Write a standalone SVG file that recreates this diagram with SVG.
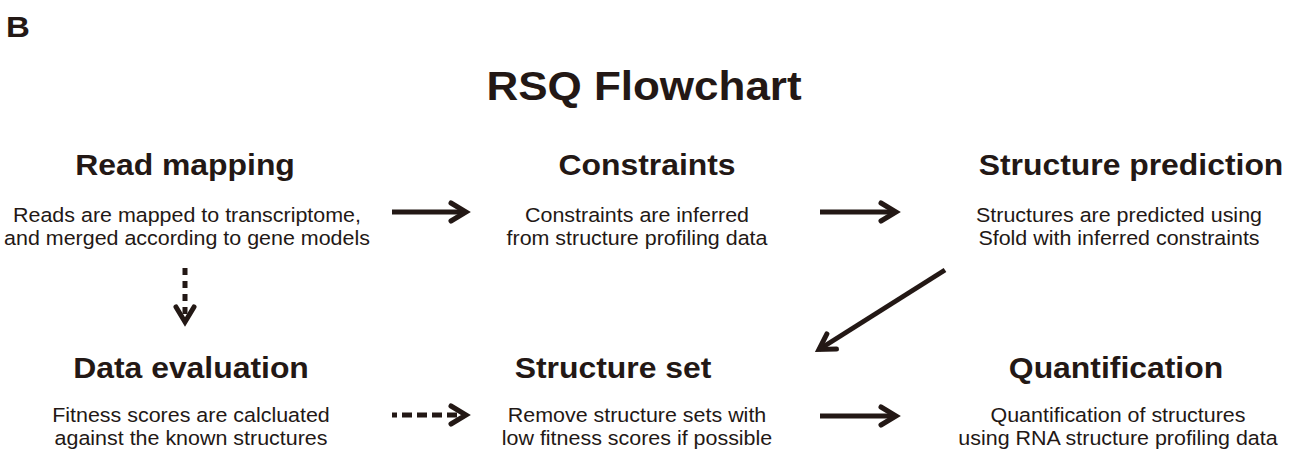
<svg xmlns="http://www.w3.org/2000/svg" width="1298" height="458" viewBox="0 0 1298 458">
<style>
text{font-family:"Liberation Sans",Arial,Helvetica,sans-serif;fill:#231815;text-anchor:middle}
.t{font-size:40px;font-weight:bold}
.h{font-size:29px;font-weight:bold}
.b{font-size:19.5px}
.lab{font-size:30px;font-weight:bold;text-anchor:start}
.c{fill:none;stroke:#231815;stroke-width:5}
.d{stroke-dasharray:7 6}
</style>
<defs>
<marker id="ah" markerUnits="userSpaceOnUse" markerWidth="30" markerHeight="30" refX="0" refY="0" orient="auto" overflow="visible">
<path d="M-15,-9 L0,0 L-15,9" fill="none" stroke="#231815" stroke-width="5" stroke-linecap="round" stroke-linejoin="miter" stroke-dasharray="none"/>
</marker>
</defs>
<rect width="1298" height="458" fill="#fff"/>
<text class="lab" transform="translate(6 37) scale(1.1 1)">B</text>
<text class="t" transform="translate(644 100) scale(1.1 1)">RSQ Flowchart</text>

<g id="read-mapping">
<text class="h" transform="translate(185 175) scale(1.1 1)">Read mapping</text>
<text class="b" transform="translate(187 222) scale(1.1 1)">Reads are mapped to transcriptome,</text>
<text class="b" transform="translate(187 245) scale(1.1 1)">and merged according to gene models</text>
</g>
<g id="constraints">
<text class="h" transform="translate(647 175) scale(1.1 1)">Constraints</text>
<text class="b" transform="translate(637 222) scale(1.1 1)">Constraints are inferred</text>
<text class="b" transform="translate(637 245) scale(1.1 1)">from structure profiling data</text>
</g>
<g id="structure-prediction">
<text class="h" transform="translate(1131 175) scale(1.1 1)">Structure prediction</text>
<text class="b" transform="translate(1119 222) scale(1.1 1)">Structures are predicted using</text>
<text class="b" transform="translate(1119 245) scale(1.1 1)">Sfold with inferred constraints</text>
</g>
<g id="data-evaluation">
<text class="h" transform="translate(191 378) scale(1.1 1)">Data evaluation</text>
<text class="b" transform="translate(191 422) scale(1.1 1)">Fitness scores are calcluated</text>
<text class="b" transform="translate(191 445) scale(1.1 1)">against the known structures</text>
</g>
<g id="structure-set">
<text class="h" transform="translate(613 378) scale(1.1 1)">Structure set</text>
<text class="b" transform="translate(637 422) scale(1.1 1)">Remove structure sets with</text>
<text class="b" transform="translate(637 445) scale(1.1 1)">low fitness scores if possible</text>
</g>
<g id="quantification">
<text class="h" transform="translate(1116 378) scale(1.1 1)">Quantification</text>
<text class="b" transform="translate(1118 422) scale(1.1 1)">Quantification of structures</text>
<text class="b" transform="translate(1118 445) scale(1.1 1)">using RNA structure profiling data</text>
</g>

<g id="connectors">
<path class="c" d="M392,212 H466" marker-end="url(#ah)"/>
<path class="c" d="M820,212 H896" marker-end="url(#ah)"/>
<path class="c" d="M945,270 L819,349.5" marker-end="url(#ah)"/>
<path class="c d" d="M185,268 V322" marker-end="url(#ah)"/>
<path class="c" d="M392,415 H466" stroke-dasharray="10 5" stroke-dashoffset="5" marker-end="url(#ah)"/>
<path class="c" d="M820,416 H896" marker-end="url(#ah)"/>
</g>
</svg>
